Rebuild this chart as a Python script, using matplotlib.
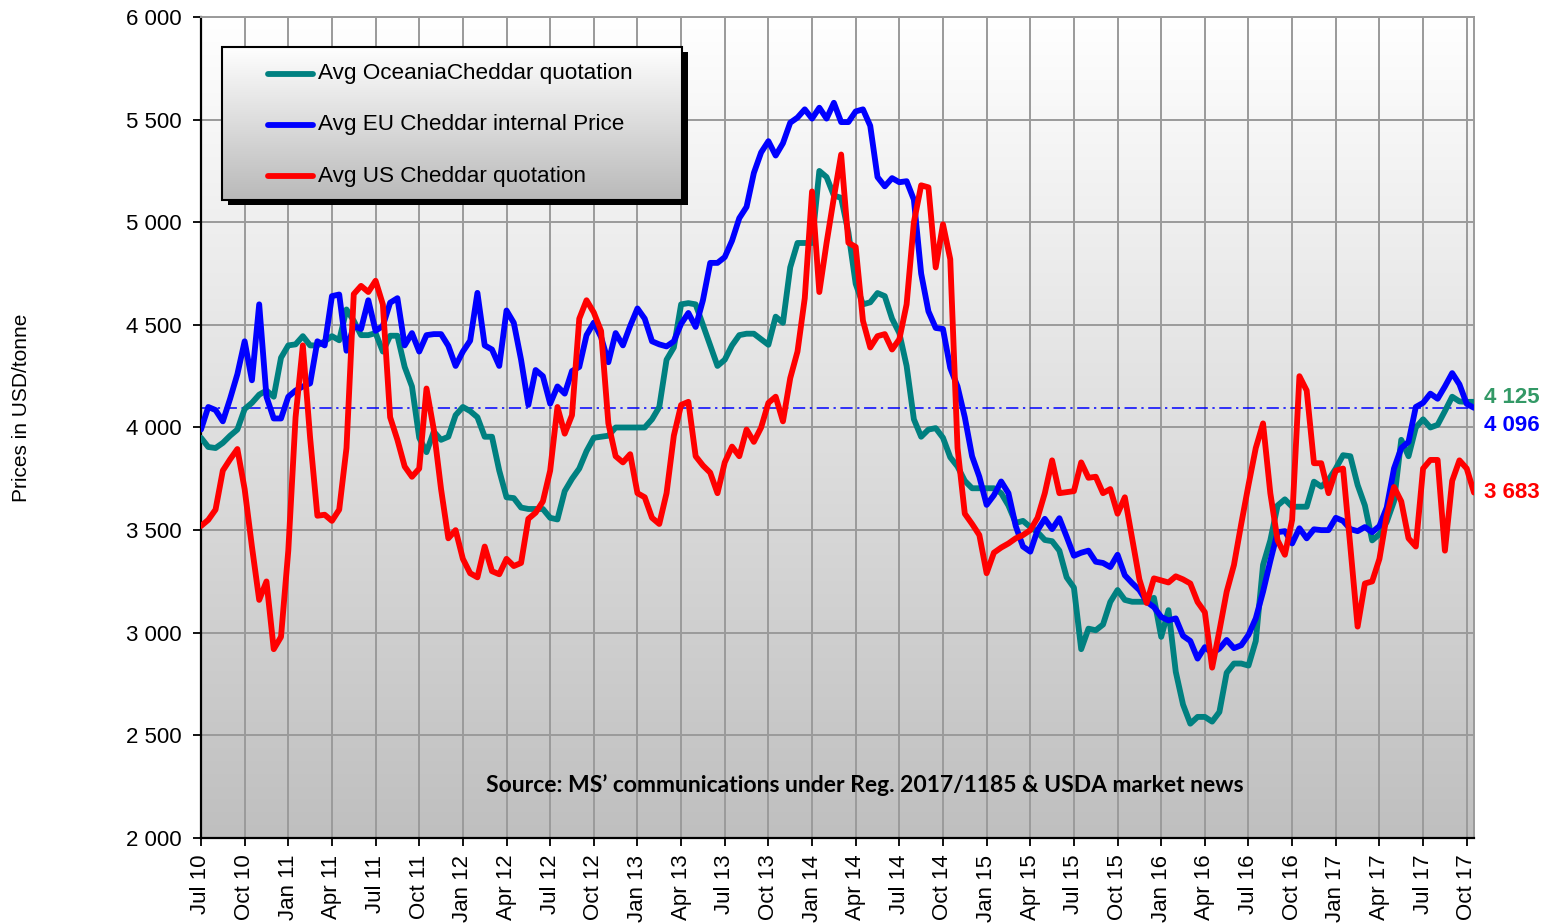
import numpy as np
import pandas as pd
import matplotlib
matplotlib.use("Agg")
import matplotlib.pyplot as plt
from matplotlib.patches import Rectangle
from matplotlib.lines import Line2D
from matplotlib.colors import LinearSegmentedColormap

plt.rcParams["font.family"] = ["Liberation Sans", "DejaVu Sans"]

# semi-monthly prices (USD/tonne), Jul 2010 .. mid Oct 2017
oceania = [3950, 3905, 3900, 3925, 3960, 3990, 4090, 4120, 4160, 4180,
           4150, 4340, 4400, 4405, 4445, 4400, 4400, 4420, 4445, 4425,
           4575, 4520, 4450, 4450, 4460, 4370, 4447, 4447, 4295, 4200,
           3950, 3880, 3980, 3940, 3955, 4060, 4100, 4080, 4050, 3955,
           3955, 3790, 3660, 3656, 3610, 3603, 3603, 3603, 3560, 3552,
           3690, 3750, 3800, 3885, 3950, 3955, 3960, 4000, 4000, 4000,
           4000, 4000, 4040, 4100, 4330, 4390, 4600, 4606, 4600, 4500,
           4400, 4300, 4330, 4400, 4450, 4457, 4457, 4430, 4403, 4540,
           4510, 4780, 4899, 4899, 4899, 5250, 5220, 5130, 5119, 4950,
           4700, 4600, 4610, 4655, 4640, 4530, 4460, 4300, 4040, 3955,
           3990, 3997, 3950, 3855, 3810, 3740, 3704, 3704, 3704, 3704,
           3680, 3620, 3535, 3545, 3515, 3490, 3452, 3446, 3400, 3270,
           3220, 2920, 3020, 3012, 3040, 3150, 3208, 3160, 3151, 3151,
           3151, 3170, 2980, 3110, 2810, 2650, 2557, 2590, 2590, 2567,
           2614, 2805, 2850, 2850, 2840, 2960, 3330, 3450, 3620, 3650,
           3614, 3614, 3614, 3736, 3712, 3745, 3800, 3865, 3860, 3720,
           3620, 3450, 3480, 3540, 3640, 3940, 3860, 4000, 4040, 4000,
           4013, 4080, 4150, 4127, 4125, 4125]

eu = [3990, 4100, 4085, 4030, 4140, 4260, 4420, 4230, 4600, 4150,
      4044, 4044, 4150, 4180, 4200, 4215, 4420, 4400, 4640, 4648,
      4374, 4495, 4480, 4620, 4471, 4495, 4608, 4630, 4400, 4460,
      4370, 4450, 4455, 4455, 4398, 4300, 4370, 4423, 4656, 4400,
      4380, 4300, 4570, 4510, 4330, 4110, 4280, 4250, 4116, 4200,
      4165, 4275, 4295, 4450, 4511, 4440, 4318, 4460, 4400, 4495,
      4580, 4530, 4420, 4405, 4395, 4420, 4505, 4558, 4490, 4620,
      4802, 4802, 4830, 4910, 5020, 5075, 5240, 5340, 5395, 5325,
      5385, 5485, 5510, 5550, 5505, 5558, 5505, 5582, 5488, 5488,
      5540, 5550, 5470, 5220, 5175, 5215, 5195, 5200, 5110, 4750,
      4566, 4485, 4480, 4290, 4200, 4050, 3860, 3760, 3623, 3670,
      3737, 3680, 3520, 3420, 3395, 3500, 3555, 3505, 3558, 3468,
      3375, 3390, 3400, 3346, 3340, 3320, 3380, 3280, 3242, 3208,
      3151, 3125, 3077, 3060, 3070, 2985, 2960, 2874, 2930, 2900,
      2923, 2965, 2925, 2939, 2990, 3070, 3200, 3350, 3490, 3495,
      3435, 3509, 3460, 3504, 3500, 3500, 3560, 3545, 3505, 3495,
      3515, 3490, 3520, 3610, 3800, 3900, 3930, 4100, 4120, 4165,
      4140, 4200, 4265, 4210, 4115, 4096]

us = [3520, 3550, 3600, 3790, 3845, 3895, 3700, 3420, 3160, 3250,
      2920, 2980, 3400, 4050, 4400, 3950, 3570, 3575, 3545, 3600,
      3900, 4650, 4690, 4660, 4715, 4600, 4050, 3940, 3810, 3760,
      3800, 4190, 3990, 3700, 3460, 3500, 3360, 3290, 3270, 3420,
      3300, 3285, 3360, 3325, 3340, 3555, 3585, 3640, 3790, 4100,
      3970, 4060, 4530, 4620, 4560, 4470, 4020, 3860, 3830, 3870,
      3680, 3660, 3560, 3530, 3680, 3960, 4110, 4125, 3860, 3815,
      3780, 3680, 3830, 3907, 3860, 3990, 3930, 4000, 4120, 4150,
      4030, 4240, 4370, 4630, 5150, 4660, 4900, 5120, 5330, 4900,
      4880, 4520, 4390, 4445, 4455, 4380, 4430, 4600, 5000, 5180,
      5170, 4780, 4990, 4820, 3900, 3580, 3530, 3476, 3290, 3390,
      3415, 3435, 3460, 3476, 3500, 3560, 3680, 3840, 3680, 3685,
      3690, 3830, 3755, 3760, 3680, 3700, 3580, 3660, 3460, 3260,
      3145, 3265, 3255, 3245, 3275, 3260, 3240, 3150, 3100, 2830,
      3010, 3200, 3330, 3530, 3720, 3900, 4020, 3680, 3450, 3380,
      3550, 4250, 4180, 3826, 3826, 3680, 3790, 3800, 3420, 3030,
      3240, 3250, 3360, 3570, 3710, 3640, 3460, 3420, 3800, 3842,
      3842, 3400, 3740, 3840, 3800, 3683]

series_names = ["Avg OceaniaCheddar quotation", "Avg EU Cheddar internal Price",
                "Avg US Cheddar quotation"]
series_colors = ["#008080", "#0000ff", "#ff0000"]
end_label_colors = ["#339966", "#0000ff", "#ff0000"]
quarter_labels = list(pd.date_range("2010-07-01", "2017-10-01", freq="3MS").strftime("%b %y"))
y_ticks = [2000, 2500, 3000, 3500, 4000, 4500, 5000, 5500, 6000]
source_text = "Source: MS\u2019 communications under Reg. 2017/1185 & USDA market news"


def thousands(v):
    return f"{int(v):,}".replace(",", " ")


def main():
    months = np.arange(len(us)) / 2.0
    fig = plt.figure(figsize=(15.49, 9.23), dpi=100)
    ax = fig.add_axes([201 / 1549, 85 / 923, 1273 / 1549, 821 / 923])

    # grey vertical gradient behind the plot
    bg = LinearSegmentedColormap.from_list("bg", ["#bfbfbf", "#ffffff"])
    ax.imshow(np.linspace(0, 1, 256).reshape(-1, 1), cmap=bg, origin="lower",
              extent=[0, 1, 0, 1], transform=ax.transAxes, aspect="auto", zorder=0)

    for vals, col in zip([oceania, eu, us], series_colors):
        ax.plot(months, vals, color=col, lw=4.2, solid_joinstyle="round",
                solid_capstyle="round", zorder=3)

    ax.axhline(eu[-1], color="#0000ff", lw=1.1, ls=(0, (8, 3, 1.5, 3)), zorder=2.5)

    ax.set_xlim(0, months[-1])
    ax.set_ylim(2000, 6000)
    ax.set_xticks(np.arange(len(quarter_labels)) * 3)
    ax.set_xticklabels(quarter_labels, rotation=90, fontsize=16)
    ax.set_yticks(y_ticks)
    ax.set_yticklabels([thousands(v) for v in y_ticks], fontsize=16)
    ax.tick_params(axis="both", direction="out", length=6, width=1.3, colors="black")
    ax.tick_params(axis="y", pad=8)
    ax.tick_params(axis="x", pad=6)
    ax.set_axisbelow(True)
    ax.grid(True, color="#9a9a9a", lw=1.4)
    for s in ["left", "bottom"]:
        ax.spines[s].set_color("black")
        ax.spines[s].set_linewidth(1.6)
    for s in ["top", "right"]:
        ax.spines[s].set_color("#9a9a9a")
        ax.spines[s].set_linewidth(1.4)

    fig.text(22 / 1549, 1 - 408 / 923, "Prices in USD/tonne", rotation=90,
             ha="center", va="center", fontsize=15)

    # last values at the right edge
    offsets = [3, -13, 0]
    for vals, col, off in zip([oceania, eu, us], end_label_colors, offsets):
        ax.annotate(thousands(vals[-1]), xy=(1, vals[-1]), xycoords=("axes fraction", "data"),
                    xytext=(7, off), textcoords="offset points", va="center", ha="left",
                    color=col, fontsize=16, fontweight="bold", annotation_clip=False)

    ax.text(0.5216, 0.0646, source_text, transform=ax.transAxes, ha="center", va="center",
            fontsize=16.5, fontweight="bold", family=["Lato", "DejaVu Sans"], zorder=4)

    # legend box with shadow and gradient fill
    x0, x1, y0, y1 = 0.0165, 0.378, 0.777, 0.9635
    ax.add_patch(Rectangle((x0 + 0.0045, y0 - 0.0065), x1 - x0, y1 - y0, transform=ax.transAxes,
                           facecolor="black", edgecolor="none", zorder=5))
    lg = LinearSegmentedColormap.from_list("lg", ["#b9b9b9", "#ffffff"])
    ax.imshow(np.linspace(0, 1, 256).reshape(-1, 1), cmap=lg, origin="lower",
              extent=[x0, x1, y0, y1], transform=ax.transAxes, aspect="auto", zorder=6)
    ax.add_patch(Rectangle((x0, y0), x1 - x0, y1 - y0, transform=ax.transAxes,
                           facecolor="none", edgecolor="black", lw=1.5, zorder=7))
    rows = [0.931, 0.869, 0.806]
    for name, col, yy in zip(series_names, series_colors, rows):
        ax.add_line(Line2D([0.0526, 0.088], [yy, yy], transform=ax.transAxes, color=col,
                           lw=4.2, solid_capstyle="round", zorder=8))
        ax.text(0.0919, yy, name, transform=ax.transAxes, va="center", ha="left",
                fontsize=16.2, zorder=8)

    ax.set_xlim(0, months[-1])
    ax.set_ylim(2000, 6000)
    fig.savefig("out.png", dpi=100)


if __name__ == "__main__":
    main()
